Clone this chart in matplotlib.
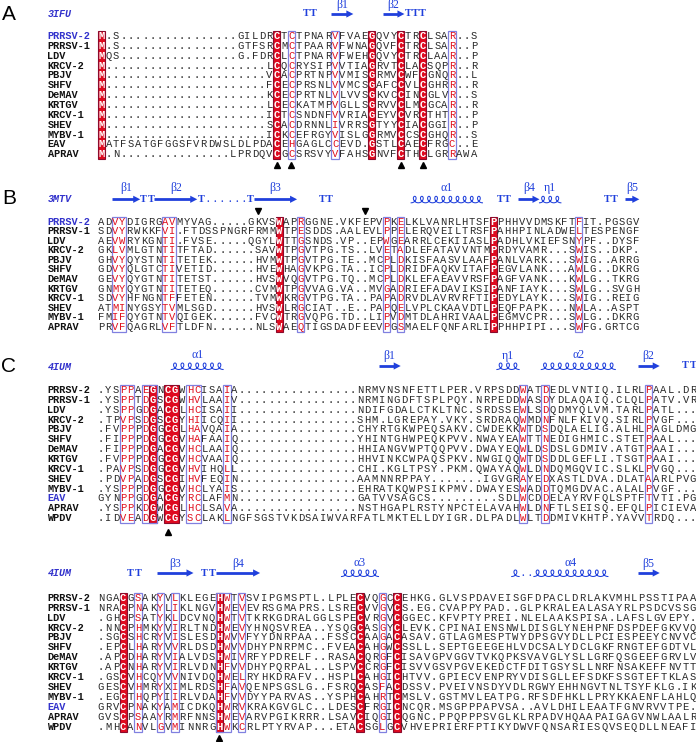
import matplotlib
matplotlib.use('Agg')
import matplotlib.pyplot as plt
from matplotlib.patches import Rectangle, Polygon
import numpy as np

#%% colours / fonts
RED = '#df0a1f'
RED_EDGE = '#8c0a2c'
FRAME = '#8080e0'
NAMEBLUE = '#3333cc'
SSBLUE = '#2040dc'
MONO = 'Liberation Mono'
SERIF = 'Liberation Serif'

#%% panel A (3IFU)
a_names = ['PRRSV-2', 'PRRSV-1', 'LDV', 'KRCV-2', 'PBJV', 'SHFV', 'DeMAV',
           'KRTGV', 'KRCV-1', 'SHEV', 'MYBV-1', 'EAV', 'APRAV']
a_seqs = [
    'M.S................' 'GILDRCTCTPNARVFVAEGQVYCTRCLSAR..S',
    'M.S................' 'GTFSRCMCTPAARVFWNAGQVFCTRCLSAR..P',
    'MQS................' 'G.FDRCLCTPNARVFWEHGQVYCTRCLAAR..P',
    'M......................' 'LCQCRYSIPVVTIAGRVTCLACSQPR..R',
    'M......................' 'VCACPRTNPVVMISGRMVCWFCGNQR..L',
    'M......................' 'FCECPRSNLVVMCSGAFCCVLCGHRR..R',
    'M......................' 'KCECPRTNLVLVVSGKVCCINCGLVR..S',
    'M......................' 'LCECKATMPVGLLSGRVVCLMCGCAR..R',
    'M......................' 'ICTCSNDNFVVRIAGEYVCVRCTHTR..P',
    'M......................' 'SCACDRNNLIVRRSGTYYCIACGGIR..P',
    'M......................' 'ICKCEFRGYVISLGGRMVCCSCGHQR..S',
    'MATFSATGFGGSFVRDWSLD' 'LPDACEHGAGLCCEVD.GSTLCAECFRGC..E',
    'M.N...............' 'LPRDQVCGCSRSVYVFAHSGNVFCTHCLGRRAWA',
]
a_red = [0, 24, 37, 41, 44]
a_frames = [(26, 26), (32, 32), (48, 48)]
a_marks = [24, 26, 41, 44]
a_ss = [('T', 28, 29, ''), ('E', 32, 34, 'β1'), ('E', 39, 41, 'β2'),
        ('T', 42, 44, '')]

#%% panel B (3MTV)
b_names = ['PRRSV-2', 'PRRSV-1', 'LDV', 'KRCV-2', 'PBJV', 'SHFV', 'DeMAV',
           'KRTGV', 'KRCV-1', 'SHEV', 'MYBV-1', 'APRAV']
b_seqs = [
    'ADVYDIGRGAVMYVAG.....' 'GKVSWAPRGGNE.VKFEPVPKELKLVANRL' 'HTSFPPHHVVDMSKFTFIT.PGSGV',
    'SDVYRWKKFVI.FTDSSPNGRFRMMWTPESDDS.AALEVLPPELERQVEIL' 'TRSFPAHHPINLADWELTESPENGF',
    'AEVWRYKGNTI.FVSE.....' 'QGYLWTTGSNDS.VP..EPWGEARRLCEKI' 'IASLPADHLVKIEFSNYPF..DYSF',
    'GKLVMLGTNTITFTAD......' 'SAVWTPGVTPG.TS..LVETADLEFATAV' 'VNTMPRDYVAMR...SWIS..DKP.',
    'GHVYQYSTNTITETEK......' 'HVMWTPGVTPG.TE..MCPLDKISFAASV' 'LAAFPANLVARK...SWIG..ARRG',
    'GDVYQLGTCTIVETID......' 'HVEWHAGVKPG.TA..ICPLDRIDFAQKV' 'ITAFPEGVLANK...AWLG..DKRG',
    'GEVYQYGTNTITETST......' 'HVSWVQGVTPG.TQ..MCPLDKLEFAEAV' 'VRSFPAGFVANK...KWLG..TKRG',
    'GNMYQYGTNTITETEQ......' 'CVMWTPGVVAG.VA..MVGADRIEFADAV' 'IKSIPANFIAYK...SWLG..SVGH',
    'SDVYHFNGNTFFETEN......' 'TVMWKRGVTPG.TA..PAPADRVDLAVRV' 'RFTIPEDYLAYK...SWIG..REIG',
    'ATMINYGSYTVMLSGD......' 'HVSWLRGCIAT..E..PAPQELVPLCKAA' 'VDTLPEQFPAPK...NWLA..ASPT',
    'FMIFQYGTNTVQIGEK......' 'FVCWTRGVQPG.TD..LIPVDMTDLAHRI' 'VAALPEGMVCPR...SWLG..DKRG',
    'PRVFQAGRLVFTLDFN......' 'NLSWAEQTIGSDADFEEVPGSMAELFQNF' 'ARLIPPHHPIPI...SWFG.GRTCG',
]
b_red = [25, 55]
b_frames = [(2, 3), (9, 10), (28, 28), (40, 40), (42, 42), (67, 67)]
b_marks = [22, 37]
b_ss = [('E', 2, 5, 'β1'), ('T', 6, 7, ''), ('E', 8, 13, 'β2'), ('T', 14, 14, ''),
        ('.', 15, 20, ''), ('T', 21, 21, ''), ('E', 22, 27, 'β3'), ('T', 31, 32, ''),
        ('H', 44, 53, 'α1'), ('T', 56, 57, ''), ('E', 59, 61, 'β4'), ('H', 62, 64, 'η1'),
        ('T', 71, 72, ''), ('E', 74, 75, 'β5')]

#%% panel C (4IUM), two blocks
c_names = ['PRRSV-2', 'PRRSV-1', 'LDV', 'KRCV-2', 'PBJV', 'SHFV', 'DeMAV',
           'KRTGV', 'KRCV-1', 'SHEV', 'MYBV-1', 'EAV', 'APRAV', 'WPDV']
c1_seqs = [
    '.YSPPAEGNCGWHCISAIA................' 'NRMVNSNFETTLPE' 'R.VRPSDDWATDEDLVNTIQ.ILRLPAAL.DR',
    '.YSPPTDGSCGWHVLAAIV................' 'NRMINGDFTSPLPQ' 'Y.NRPEDDWASDYDLAQAIQ.CLQLPATV.VR',
    '.YSPPGDGACGLHCISAII................' 'NDIFGDALCTKLTN' 'C.SRDSSEWLSDQDMYQLVM.TARLPATL...',
    '.TPVPSDGSCGYHIICQII................' 'SHM.LGREPAY.VK' 'Y.SRDRAQWMDNFNLFKIVQ.SIRLPVGF...',
    '.FVPPPDGGCGLHAVQAIA................' 'CHYRTGKWPEQSAK' 'V.CWDEKKWTDSDQLAELIG.ALHLPAGLDMG',
    '.FIPPPDGGCGVHAFAAIQ................' 'YHINTGHWPEQKPV' 'V.NWAYEAWTTNEDIGHMIC.STETPAAL...',
    '.FIPPPDGACGVHCLAAIQ................' 'HHIANGVWPTQQPV' 'V.DWAYEQWLDSDSLGDMIV.ATGTPAAI...',
    '.FVPPPDGGCGVHCVAAIQ................' 'HHVINKCWPAQSPK' 'V.NWGIQQWTDSDDLGEFLI.TSGTPAAI...',
    '.PAVPSDGGCGVHVIHQLL................' 'CHI.KGLTPSY.PK' 'M.QWAYAQWLDNDQMGQVIC.SLKLPVGQ...',
    '.PDVPADGSCGIHVFEQIN................' 'AAMNNRPPAY....' '...IGVGRAYEDXASTLDVA.DLATAARLPVG',
    '.YSPPPDGGCGVHCLYAIS................' 'EHRATKQWPSIKPM' 'V.DWAYESWADDTQMGDVAC.ALALPVGF...',
    'GYNPPGDGACGYRCLAFMN................' 'GATVVSAGCS....' '.....SDLWCDDELAYRVFQLSPTFTVTI.PG',
    '.YSPPKDGWCGLHCLSAVA................' 'NSTHGAPLRSTYNP' 'CTELAVAHWLDNFTLSEISQ.EFQLPICIEVA',
    '.IDVEADGWCGYSCLAKLN' 'GFSGSTVKDSAIWVARFATLMKTELLDYIG' 'R.DLPADLWLTDDMIVKHTP.YAVVTRDQ...',
]
c1_red = [7, 9, 10]
c1_frames = [(3, 4), (6, 7), (12, 13), (17, 17), (57, 57), (60, 60), (74, 74)]
c1_marks = [9]
c1_ss = [('H', 10, 16, 'α1'), ('E', 38, 40, 'β1'), ('H', 54, 56, 'η1'),
         ('H', 60, 69, 'α2'), ('E', 73, 75, 'β2'), ('T', 79, 80, '')]

c2_seqs = [
    'NGACGSAKYVLKLEGEHWT' 'VSVIPGMSPTL.LPLECVQGCCEHKG.GLV' 'SPDAVEISGFDPACLDRLAKVMHLPSSTIPAA',
    'NRACPNAKYLIKLNGVHWE' 'VEVRSGMAPRS.LSRECVVGVCS.EG.CVA' 'PPYPAD..GLPKRALEALASAYRLPSDCVSSG',
    '.GHCPSATYKLDCVNQHWT' 'VTKRKGDRALGGLSPECVRGVCGGEC.KFV' 'PTYPREI.NLELAAKSPISA.LAFSLGVEPY.',
    '.NNCPHMKYVIRLTNDHWE' 'VYHNQSVREA..YSQGCASGYCLEVK.CPI' 'NAIENSNWLDISGLYNEHPNFDSPDEFGKVVQ',
    '.SGCSHCRYVISLESDHWV' 'VFYYDNRPAA..FSSCCAAGACASAV.GTL' 'AGMESPTWYDPSGVYDLLPCIESPEEYCNVVC',
    '.EPCLHARYVVRLDSDHWV' 'VDHYPNRPMC..FVEACAHGWCSSLL.SEP' 'TGEEGEHLVDCSALYDCLGKFRNGTEFGDTVL',
    '.APCDHARYVIALVDSHWI' 'VRFYPDRELF..RASACQRGFCISAVGPVG' 'GVTVKQPKSVAVGLYSLLGRFQSGEEFGRVLV',
    '.APCNHARYVIRLVDNHFV' 'VDHYPQRPAL..LSPVCCRGFCISVVGSVP' 'GVEKEDCTFDITGSYSLLNRFNSAKEFFNVTT',
    '.GSCVHCQYVVNIVDQHWE' 'LRYHKDRAFV..HSPLCAHGICHTVV.GPI' 'ECVENPRYVDISGLLEFSDKFSSGTEFTKLAS',
    'GESCVHMRYXIMLRDSHFA' 'VQENPSGSLG..FSRQCASFACDSSV.PVE' 'IVNSDYVDLRGWYEHHNGVTNLTSYFKLG.IK',
    '.EGCTHQPYIIRLVDAHFV' 'VDYYPARVAS..YSPHCAHRTCMSLV.GST' 'MVLEATPG.RFSDFHKLLPRYKKAENFLAHLQ',
    'GRVCPNAKYAMICDKQHWR' 'VKRAKGVGLC..LDESCFRGICNCQR.MSG' 'PPPAPVSA..AVLDHILEAATFGNVRVVTPE.',
    'GVSCPSAAYRMRFNNSHWE' 'VARVPGIKRRR.LSAVCIQGICQGNC.PPQ' 'PPPSVGLKLRPADVHQAAPAIGAGVNWLAALR',
    '.MHCANVLGVMINNRGHWK' 'CRLPTYRVAP...ETACSGLGCVHVEPRIE' 'RFPTIKYDWVFQNSARIESQVSEQDLLNEAFI',
]
c2_red = [3, 16, 35, 40]
c2_frames = [(5, 5), (8, 8), (10, 10), (16, 17), (19, 19), (38, 38)]
c2_marks = [16]
c2_ss = [('T', 4, 5, ''), ('E', 8, 12, 'β3'), ('T', 14, 15, ''), ('E', 16, 21, 'β4'),
         ('H', 33, 37, 'α3'), ('H', 56, 56, ''), ('.', 57, 58, ''), ('H', 59, 68, 'α4'),
         ('E', 73, 75, 'β5')]

#%% figure
fig = plt.figure(figsize=(6.96, 7.42), dpi=100)
ax = fig.add_axes([0, 0, 1, 1])
ax.set_xlim(0, 696)
ax.set_ylim(742, 0)
ax.axis('off')


def runs(cols):
    # group neighbouring columns into one box
    out = []
    for c in sorted(cols):
        if out and c == out[-1][1] + 1:
            out[-1][1] = c
        else:
            out.append([c, c])
    return out


def block(names, seqs, red, frames, x0, p, y0, dy, blue_rows):
    n = len(seqs)
    top = y0 - dy / 2
    for s, e in frames:
        ax.add_patch(Rectangle((x0 + (s - 0.5) * p, top), (e - s + 1) * p, n * dy,
                               fill=False, ec=FRAME, lw=0.9, zorder=2))
    for s, e in runs(red):
        ax.add_patch(Rectangle((x0 + (s - 0.5) * p, top), (e - s + 1) * p, n * dy,
                               fc=RED, ec=RED_EDGE, lw=0.8, zorder=1))
    framed = set(c for s, e in frames for c in range(s, e + 1))
    for i, seq in enumerate(seqs):
        y = y0 + i * dy
        ax.text(47.5, y, names[i], family=MONO, weight='bold', fontsize=7.4,
                color=NAMEBLUE if i in blue_rows else '#111111', ha='left', va='center')
        for c, ch in enumerate(seq):
            if c in red:
                col, wt = 'white', 'bold'
            elif c in framed and ch != '.':
                col, wt = '#e0101e', 'normal'
            else:
                col, wt = '#2a2a2a', 'normal'
            ax.text(x0 + c * p, y, ch, family=MONO, fontsize=7.6, color=col,
                    weight=wt, ha='center', va='center', zorder=3)


def ss_row(ss, x0, p, y, ylab):
    for kind, s, e, lab in ss:
        xa = x0 + (s - 0.5) * p
        xb = x0 + (e + 0.5) * p
        if kind == 'E':
            hl = 7
            ax.plot([xa, xb - hl + 1], [y, y], color=SSBLUE, lw=2.0, solid_capstyle='butt')
            ax.add_patch(Polygon([[xb - hl, y - 3.6], [xb, y], [xb - hl, y + 3.6]],
                                 closed=True, fc=SSBLUE, ec='none'))
        elif kind == 'H':
            # little coil, one loop per residue
            k = e - s + 1
            t = np.linspace(0, 2 * np.pi * k, 80 * k)
            cc = p / (2 * np.pi)
            xx = xa + cc * t + 2.6 * cc * np.sin(t)
            yy = y + 3.5 - 6.5 * (1 - np.cos(t)) / 2
            ax.plot(xx, yy, color=SSBLUE, lw=0.75)
        elif kind == 'T':
            for c in range(s, e + 1):
                ax.text(x0 + c * p, y, 'T', family=SERIF, weight='bold', fontsize=7.5,
                        color=SSBLUE, ha='center', va='center')
        else:
            for c in range(s, e + 1):
                ax.text(x0 + c * p, y, '.', family=SERIF, weight='bold', fontsize=7.5,
                        color=SSBLUE, ha='center', va='center')
        if lab:
            ax.text((xa + xb) / 2, ylab, lab, family=SERIF, fontsize=8.5,
                    color=SSBLUE, ha='center', va='center')


def header(letter, pdb, y):
    ax.text(9, y, letter, family='Liberation Sans', fontsize=15, ha='center', va='center')
    ax.text(47.5, y, pdb, family=MONO, weight='bold', style='italic', fontsize=7.2,
            color=NAMEBLUE, ha='left', va='center')


# A
header('A', '3IFU', 14)
ss_row(a_ss, 101.5, 7.3, 14, 5)
block(a_names, a_seqs, a_red, a_frames, 101.5, 7.3, 36, 9.86, [0])
ax.plot([101.5 + c * 7.3 for c in a_marks], [165] * len(a_marks), '^', color='black', ms=4.5)

# B
header('B', '3MTV', 199)
ss_row(b_ss, 101, 7.13, 199.3, 188)
ax.plot([101 + c * 7.13 for c in b_marks], [211] * len(b_marks), 'v', color='black', ms=4.5)
block(b_names, b_seqs, b_red, b_frames, 101, 7.13, 221.7, 9.55, [0])

# C top
header('C', '4IUM', 367)
ss_row(c1_ss, 101, 7.4, 366, 355.5)
block(c_names, c1_seqs, c1_red, c1_frames, 101, 7.4, 390, 9.85, [11])
ax.plot([101 + c * 7.4 for c in c1_marks], [531.5] * len(c1_marks), '^', color='black', ms=4.5)

# C bottom
ax.text(47.5, 573, '4IUM', family=MONO, weight='bold', style='italic', fontsize=7.2,
        color=NAMEBLUE, ha='left', va='center')
ss_row(c2_ss, 101, 7.4, 573, 563.5)
block(c_names, c2_seqs, c2_red, c2_frames, 101, 7.4, 597.7, 9.95, [11])
ax.plot([101 + c * 7.4 for c in c2_marks], [738] * len(c2_marks), '^', color='black', ms=4.5)

fig.savefig('out.png', dpi=100)
